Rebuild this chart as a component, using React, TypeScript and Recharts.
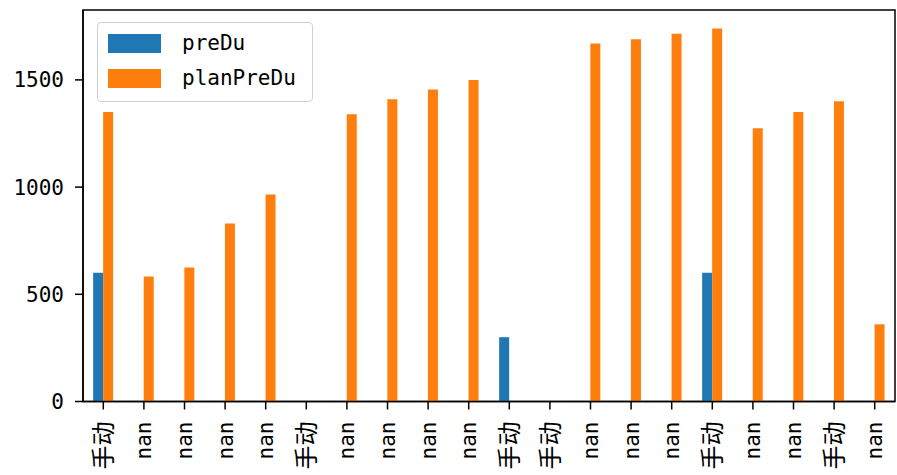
import React from "react";
import {
  BarChart,
  Bar,
  XAxis,
  YAxis,
  ReferenceArea,
} from "recharts";

const labels = [
  "手动", "nan", "nan", "nan", "nan", "手动", "nan", "nan", "nan", "nan",
  "手动", "手动", "nan", "nan", "nan", "手动", "nan", "nan", "手动", "nan",
];
const preDu = [
  600, null, null, null, null, null, null, null, null, null,
  300, null, null, null, null, 600, null, null, null, null,
];
const planPreDu = [
  1350, 583, 625, 830, 965, null, 1340, 1410, 1455, 1500,
  null, null, 1670, 1690, 1715, 1740, 1275, 1350, 1400, 360,
];
const yTicks = [0, 500, 1000, 1500];

const BLUE = "#1f77b4";
const ORANGE = "#ff7f0e";
const MONO = "'DejaVu Sans Mono', 'Noto Sans CJK SC', monospace";

const data = labels.map((label, i) => ({
  label,
  preDu: preDu[i],
  planPreDu: planPreDu[i],
}));

const XTick = (props: any) => {
  const { x, y, payload } = props;
  const text = String(payload.value);
  const cjk = /[^\x00-\x7f]/.test(text);
  return (
    <text
      transform={`translate(${x},${y}) rotate(-90)`}
      textAnchor="end"
      dy="0.36em"
      fontSize={cjk ? 24 : 21}
      fontFamily={cjk ? "'Noto Sans CJK SC', sans-serif" : MONO}
      fill="#000"
    >
      {text}
    </text>
  );
};

// legend box, placed over the plot like matplotlib's upper-left legend
const LegendBox = () => (
  <div
    style={{
      position: "absolute",
      left: 97,
      top: 22,
      width: 216,
      height: 80,
      border: "1.5px solid #d0d0d0",
      borderRadius: 4,
      background: "#fff",
      boxSizing: "border-box",
      fontFamily: MONO,
      fontSize: 21,
      color: "#000",
    }}
  >
    {[
      { name: "preDu", color: BLUE },
      { name: "planPreDu", color: ORANGE },
    ].map((item, i) => (
      <div
        key={i}
        style={{
          position: "absolute",
          left: 10,
          top: 10.5 + i * 35,
          display: "flex",
          alignItems: "center",
          height: 19,
        }}
      >
        <span style={{ width: 53, height: 19, background: item.color }} />
        <span style={{ marginLeft: 21, lineHeight: "19px" }}>{item.name}</span>
      </div>
    ))}
  </div>
);

export default function App() {
  return (
    <div style={{ position: "relative", width: 897, height: 475, background: "#fff" }}>
      <style>{`body{margin:0}`}</style>
      <BarChart
        width={897}
        height={475}
        data={data}
        margin={{ top: 10, right: 2, left: 0, bottom: 0 }}
        barCategoryGap="25%"
        barGap={0}
      >
        <XAxis
          dataKey="label"
          height={73.5}
          tickSize={8}
          tickMargin={12}
          axisLine={{ stroke: "#000", strokeWidth: 1.5 }}
          tickLine={{ stroke: "#000", strokeWidth: 1.5 }}
          tick={<XTick />}
          interval={0}
        />
        <YAxis
          width={83}
          domain={[0, 1826]}
          ticks={yTicks}
          tickSize={8}
          tickMargin={11}
          axisLine={{ stroke: "#000", strokeWidth: 1.5 }}
          tickLine={{ stroke: "#000", strokeWidth: 1.5 }}
          tick={{ fill: "#000", fontSize: 21, fontFamily: MONO }}
        />
        <ReferenceArea
          y1={0}
          y2={1826}
          fill="none"
          stroke="#000"
          strokeWidth={1.5}
        />
        <Bar dataKey="preDu" fill={BLUE} isAnimationActive={false} />
        <Bar dataKey="planPreDu" fill={ORANGE} isAnimationActive={false} />
      </BarChart>
      <LegendBox />
    </div>
  );
}
